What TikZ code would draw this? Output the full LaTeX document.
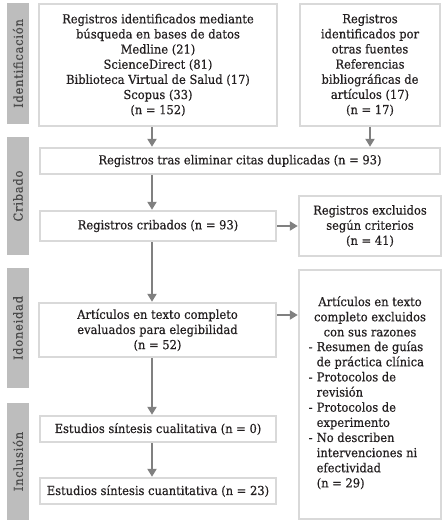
\documentclass[tikz,border=0pt]{standalone}
\usepackage{fontspec}
\setmainfont{DejaVu Serif}[FakeStretch=0.93, FakeBold=0.5]
\newfontfamily\sidefont{DejaVu Serif}[FakeStretch=0.93, FakeBold=0.4, LetterSpace=6]
\usetikzlibrary{arrows.meta}
\definecolor{txt}{HTML}{231F20}
\definecolor{sidefill}{HTML}{BDBDBD}
\definecolor{sidetxt}{HTML}{4A4A4A}
\definecolor{bord}{HTML}{D9D9D9}
\definecolor{arrc}{HTML}{808080}
\tikzset{
  box/.style={draw=bord, line width=2.4bp, fill=white, inner sep=0pt, align=center, text=txt},
  sidebar/.style={fill=sidefill, inner sep=0pt, text=sidetxt, rotate=90, minimum height=22bp, font=\sidefont\fontsize{12.4}{15.2}\selectfont},
  arr/.style={draw=arrc, line width=2bp, -{Triangle[length=8bp,width=9bp]}},
  lbl/.style={text=txt, inner sep=0pt},
}
\newcommand{\dashitem}{\makebox[8bp][l]{-}}
\newcommand{\contitem}{\hspace*{8bp}}
\begin{document}
\begin{tikzpicture}[x=1bp,y=-1bp, font=\fontsize{12.4}{15.2}\selectfont]
\useasboundingbox (0,0) rectangle (446,525);
% sidebars
\node[sidebar, minimum width=121bp] (s1) at (18,63.5) {Identificación};
\node[sidebar, minimum width=118bp] (s2) at (18,196) {Cribado};
\node[sidebar, minimum width=120bp] (s3) at (18,328) {Idoneidad};
\node[sidebar, minimum width=117bp] (s4) at (18,461.5) {Inclusión};
% boxes
\node[box, minimum width=238bp, minimum height=122bp] (db) at (158,65) {Registros identificados mediante\\búsqueda en bases de datos\\Medline (21)\\ScienceDirect (81)\\Biblioteca Virtual de Salud (17)\\Scopus (33)\\(n = 152)};
\node[box, minimum width=140bp, minimum height=122bp] (oth) at (370,65) {Registros\\identificados por\\otras fuentes\\Referencias\\bibliográficas de\\artículos (17)\\(n = 17)};
\node[box, minimum width=400bp, minimum height=26bp] (dup) at (240,161) {Registros tras eliminar citas duplicadas (n = 93)};
\node[box, minimum width=236bp, minimum height=30bp] (scr) at (158,226) {Registros cribados (n = 93)};
\node[box, minimum width=142bp, minimum height=60bp] (ex1) at (370,226) {Registros excluidos\\según criterios\\(n = 41)};
\node[box, minimum width=237bp, minimum height=54bp] (ft) at (157.5,330) {Artículos en texto completo\\evaluados para elegibilidad\\(n = 52)};
\node[box, minimum width=142bp, minimum height=249bp] (ex2) at (370,394.5) {};
\node[lbl, align=center, anchor=north] (ex2h) at (370,296) {Artículos en texto\\completo excluidos\\con sus razones};
\node[lbl, align=left, anchor=north west] (ex2l) at (308.5,341) {\dashitem Resumen de guías\\\contitem de práctica clínica\\\dashitem Protocolos de\\\contitem revisión\\\dashitem Protocolos de\\\contitem experimento\\\dashitem No describen\\\contitem intervenciones ni\\\contitem efectividad\\\contitem (n = 29)};
\node[box, minimum width=236bp, minimum height=26bp] (cual) at (158,429) {Estudios síntesis cualitativa (n = 0)};
\node[box, minimum width=236bp, minimum height=26bp] (cuant) at (158,491) {Estudios síntesis cuantitativa (n = 23)};
% arrows
\coordinate (c1) at (152,0);
\coordinate (c2) at (0,315);
\draw[arr] (db.south -| c1) -- (dup.north -| c1);
\draw[arr] (oth.south) -- (dup.north -| oth.south);
\draw[arr] (dup.south -| c1) -- (scr.north -| c1);
\draw[arr] (scr.east) -- (ex1.west);
\draw[arr] (scr.south -| c1) -- (ft.north -| c1);
\draw[arr] (ft.east |- c2) -- (ex2.west |- c2);
\draw[arr] (ft.south -| c1) -- (cual.north -| c1);
\draw[arr] (cual.south -| c1) -- (cuant.north -| c1);
\end{tikzpicture}
\end{document}
